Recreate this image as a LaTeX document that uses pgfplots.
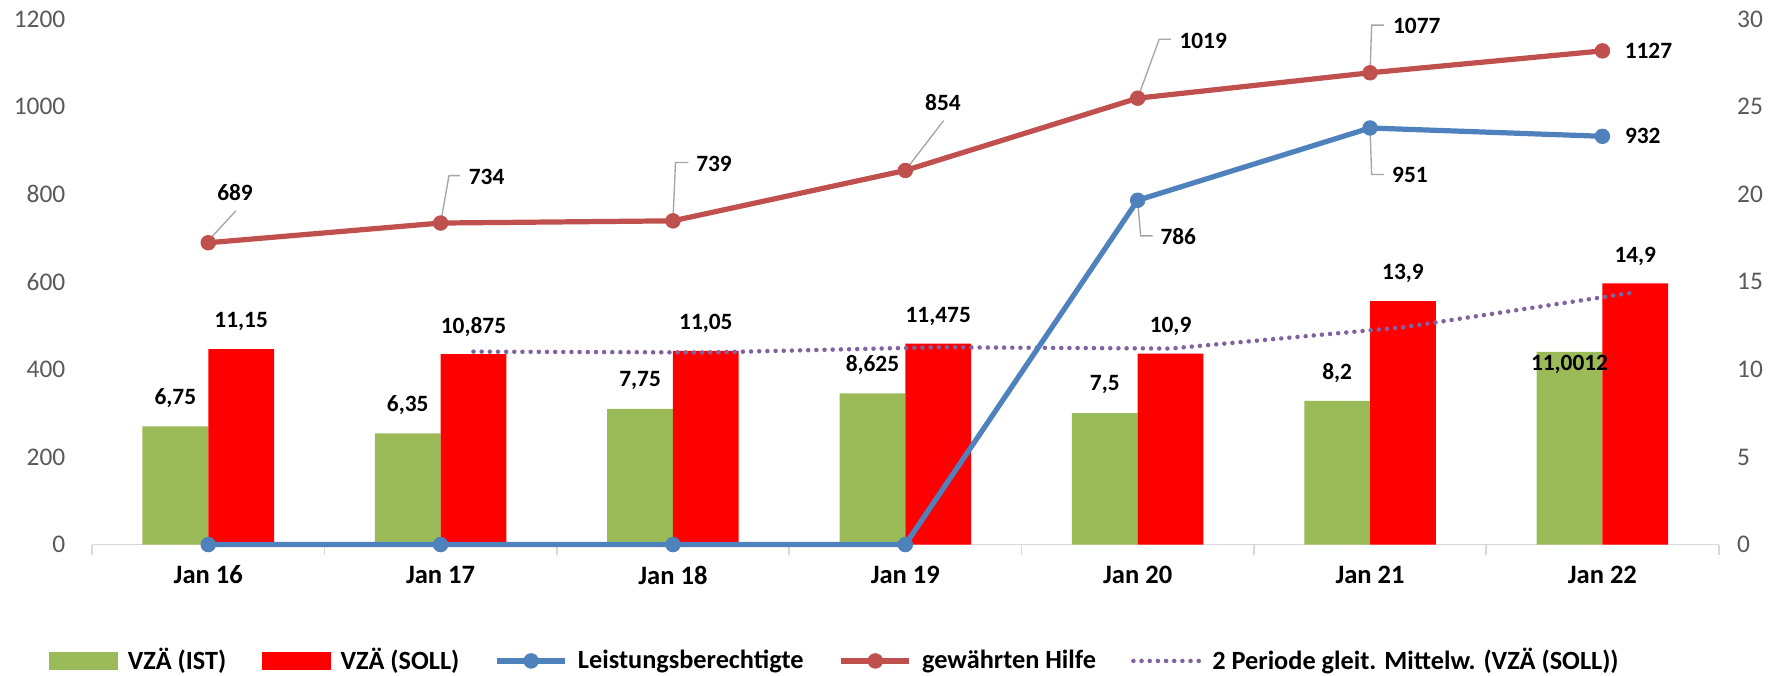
\documentclass[border=0pt]{standalone}
\usepackage{pgfplots}
\pgfplotsset{compat=1.18}
\usepackage{pgfplotstable}
\usepackage{fontspec}
\setmainfont{Carlito}

\definecolor{cIst}{HTML}{9BBB59}
\definecolor{cSoll}{HTML}{FF0000}
\definecolor{cHilfe}{HTML}{C0504D}
\definecolor{cLeist}{HTML}{4F81BD}
\definecolor{cTrend}{HTML}{8064A2}
\definecolor{cAxis}{HTML}{D9D9D9}
\definecolor{cTick}{HTML}{595959}
\definecolor{cLeader}{HTML}{A6A6A6}

\pgfplotstableread{
x ist istlab istdy soll solllab solldy
0 6.75 6,75 12.5 11.15 11,15 12
1 6.35 6,35 12.5 10.875 10,875 12
2 7.75 7,75 12.5 11.05 11,05 12
3 8.625 8,625 12.5 11.475 11,475 12
4 7.5 7,5 12.5 10.9 10,9 12
5 8.2 8,2 12.5 13.9 13,9 12
6 11.0012 11,0012 -5.5 14.9 14,9 12
}\bars

\pgfplotstableread{
x hilfe hlab hdx hdy leist llab ldx ldy
0 689 689 11.8 22 0 {} 0 0
1 734 734 20.3 20.2 0 {} 0 0
2 739 739 18.1 25.3 0 {} 0 0
3 854 854 16.6 29.9 0 {} 0 0
4 1019 1019 28.9 25.4 786 786 17.9 -16.2
5 1077 1077 20.6 20.6 951 951 17.6 -20.9
6 1127 1127 20.3 0 932 932 17.8 0
}\lines

\tikzset{datalab/.style={font=\bfseries\fontsize{10.3}{12}\selectfont, text=black, inner sep=0pt}}

\pgfplotsset{
  base/.style={
    width=717.2pt, height=231.8pt, scale only axis,
    xmin=-0.5, xmax=6.5, clip=false,
    /pgf/number format/assume math mode=true,
    /pgf/number format/1000 sep={},
  },
  lineleg/.style={legend image code/.code={\draw[mark repeat=2, mark phase=2, ##1] plot coordinates {(0pt,0pt) (15pt,0pt) (30pt,0pt)};}},
}

\begin{document}
\begin{tikzpicture}
% ---------- bars (right axis) ----------
\begin{axis}[base, name=main,
  ymin=0, ymax=30, ytick={0,5,...,30},
  axis x line*=bottom, axis y line*=right,
  y axis line style={draw=none},
  x axis line style={draw=cAxis, line width=0.8pt},
  xtick={0,...,6},
  xticklabels={Jan 16,Jan 17,Jan 18,Jan 19,Jan 20,Jan 21,Jan 22},
  major tick length=0pt,
  minor xtick={-0.5,0.5,...,6.5},
  minor tick length=4.4pt, tick align=outside,
  tick style={draw=cAxis, line width=0.8pt},
  xticklabel style={font=\bfseries\fontsize{11.7}{14}\selectfont, text=black, anchor=center, yshift=-13.4pt, inner sep=0pt},
  yticklabel style={font=\fontsize{11.2}{13}\selectfont, text=cTick, anchor=west, xshift=8pt, inner sep=0pt},
]
\addplot[ybar, bar width=29pt, bar shift=-14.5pt, fill=cIst, draw=none,
  nodes near coords, point meta=explicit symbolic,
  visualization depends on={\thisrow{istdy}\as\labdy},
  every node near coord/.append style={datalab, anchor=center, xshift=-14.5pt, yshift=\labdy pt}]
  table[x=x, y=ist, meta=istlab]{\bars};
\addplot[ybar, bar width=29pt, bar shift=14.5pt, fill=cSoll, draw=none,
  nodes near coords, point meta=explicit symbolic,
  visualization depends on={\thisrow{solldy}\as\labdy},
  every node near coord/.append style={datalab, anchor=center, xshift=14.5pt, yshift=\labdy pt}]
  table[x=x, y=soll, meta=solllab]{\bars};
% 2-period moving average of VZÄ (SOLL), drawn at the SOLL bar centres
\addplot[cTrend, line width=2pt, line cap=round, dash pattern=on 0pt off 3.6pt]
  coordinates {(1.1415,11.0125) (2.1415,10.9625) (3.1415,11.2625) (4.1415,11.1875) (5.1415,12.4) (6.1415,14.4)};
\end{axis}

% ---------- lines (left axis) ----------
\begin{axis}[base,
  ymin=0, ymax=1200, ytick={0,200,...,1200},
  hide x axis, axis y line*=left,
  y axis line style={draw=none},
  major tick length=0pt,
  yticklabel style={font=\fontsize{11.2}{13}\selectfont, text=cTick, anchor=east, xshift=-11.6pt, inner sep=0pt},
  legend columns=5,
  legend style={at={(0,0)}, anchor=west, xshift=-19.1pt, yshift=-51.3pt,
    draw=none, fill=none, inner sep=0pt, outer sep=0pt,
    font=\bfseries\fontsize{11.6}{14}\selectfont,
    nodes={inner sep=0pt},
    /tikz/every odd column/.append style={column sep=4.5pt},
    /tikz/every even column/.append style={column sep=15.5pt}},
  legend cell align=left,
]
\addlegendimage{legend image code/.code={\fill[cIst] (0pt,-3.6pt) rectangle (30pt,3.6pt);}}
\addlegendentry{VZÄ (IST)}
\addlegendimage{legend image code/.code={\fill[cSoll] (0pt,-3.6pt) rectangle (30pt,3.6pt);}}
\addlegendentry{VZÄ (SOLL)}

\addplot[cLeist, line width=2.3pt, mark=*, mark size=3.2pt, mark options={solid, line width=0.4pt, fill=cLeist},
  lineleg,
  nodes near coords, point meta=explicit symbolic,
  visualization depends on={\thisrow{ldx}\as\labdx},
  visualization depends on={\thisrow{ldy}\as\labdy},
  every node near coord/.append style={datalab, anchor=center, xshift=\labdx pt, yshift=\labdy pt}]
  table[x=x, y=leist, meta=llab]{\lines};
\addlegendentry{Leistungsberechtigte}

\addplot[cHilfe, line width=2.3pt, mark=*, mark size=3.2pt, mark options={solid, line width=0.4pt, fill=cHilfe},
  lineleg,
  nodes near coords, point meta=explicit symbolic,
  visualization depends on={\thisrow{hdx}\as\labdx},
  visualization depends on={\thisrow{hdy}\as\labdy},
  every node near coord/.append style={datalab, anchor=center, xshift=\labdx pt, yshift=\labdy pt}]
  table[x=x, y=hilfe, meta=hlab]{\lines};
\addlegendentry{gewährten Hilfe}

\addlegendimage{legend image code/.code={\draw[cTrend, line width=2pt, line cap=round, dash pattern=on 0pt off 3.6pt] (0.7pt,0pt) -- (30pt,0pt);}}
\addlegendentry{2 Periode gleit. Mittelw. (VZÄ (SOLL))}

% leader lines of the data labels
\begin{scope}[cLeader, line width=0.6pt]
\draw (axis cs:0,689) ++(1.5pt,2.5pt) -- ++(10.7pt,11.6pt);
\draw (axis cs:1,734) -- ++(3.7pt,20.9pt) -- ++(4.8pt,0pt);
\draw (axis cs:2,739) -- ++(1.1pt,25.7pt) -- ++(5.7pt,0pt);
\draw (axis cs:3,854) -- ++(16.9pt,22pt);
\draw (axis cs:4,1019) -- ++(9.5pt,26pt) -- ++(5.1pt,0pt);
\draw (axis cs:5,1077) -- ++(0.7pt,21pt) -- ++(5.5pt,0pt);
\draw (axis cs:4,786) -- ++(1.3pt,-15.7pt) -- ++(5.3pt,0pt);
\draw (axis cs:5,951) -- ++(0.7pt,-20.5pt) -- ++(5.5pt,0pt);
\end{scope}
\end{axis}

\pgfresetboundingbox
\path[use as bounding box] (main.south west) ++(-40.6pt,-57.9pt) rectangle ++(784pt,298.03pt);
\end{tikzpicture}
\end{document}
